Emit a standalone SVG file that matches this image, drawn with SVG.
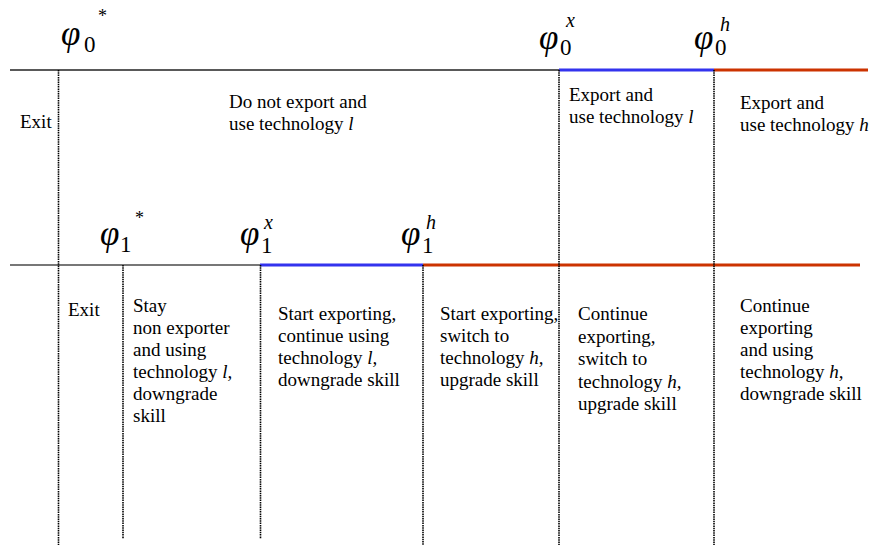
<svg xmlns="http://www.w3.org/2000/svg" width="869" height="545" viewBox="0 0 869 545">
<style>
text{font-family:'Liberation Serif','Times New Roman',Tinos,'DejaVu Serif',serif;fill:#000}
.t{font-size:19px}
.i{font-style:italic}
.phi{font-style:italic;font-size:35px}
.sub{font-style:normal;font-size:23px}
.sup{font-style:italic;font-size:20px}
.star{font-style:normal;font-size:18px}
.v{stroke:#000;stroke-width:1.6;stroke-dasharray:1.5 0.8;fill:none}
.blk{stroke:#222;stroke-width:1.3}
.gry{stroke:#777;stroke-width:2}
.blu{stroke:#3333ee;stroke-width:3}
.red{stroke:#cc3300;stroke-width:3}
</style>
<rect width="869" height="545" fill="#fff"/>
<g id="connectors">
<line class="blk" x1="10" y1="70" x2="559" y2="70"/>
<line class="blu" x1="559" y1="70" x2="714" y2="70"/>
<line class="red" x1="714" y1="70" x2="868" y2="70"/>
<line class="gry" x1="10" y1="265" x2="260" y2="265"/>
<line class="blu" x1="260" y1="265" x2="423" y2="265"/>
<line class="red" x1="423" y1="265" x2="860" y2="265"/>
<line class="v" x1="58.5" y1="70" x2="58.5" y2="545"/>
<line class="v" x1="123" y1="265" x2="123" y2="539"/>
<line class="v" x1="260.5" y1="265" x2="260.5" y2="539"/>
<line class="v" x1="423" y1="265" x2="423" y2="545"/>
<line class="v" x1="559" y1="70" x2="559" y2="545"/>
<line class="v" x1="714" y1="70" x2="714" y2="545"/>
</g>
<g id="phi0star"><text class="phi" x="61" y="45">φ<tspan class="sub" x="84" y="52">0</tspan><tspan class="star" x="98" y="22">*</tspan></text></g>
<g id="phi0x"><text class="phi" x="539" y="49">φ<tspan class="sub" x="560" y="55">0</tspan><tspan class="sup" x="566" y="27">x</tspan></text></g>
<g id="phi0h"><text class="phi" x="694" y="49">φ<tspan class="sub" x="715" y="55">0</tspan><tspan class="sup" x="720" y="31">h</tspan></text></g>
<g id="phi1star"><text class="phi" x="100" y="245">φ<tspan class="sub" x="120" y="252">1</tspan><tspan class="star" x="135" y="224">*</tspan></text></g>
<g id="phi1x"><text class="phi" x="240" y="245">φ<tspan class="sub" x="261" y="253">1</tspan><tspan class="sup" x="264" y="229">x</tspan></text></g>
<g id="phi1h"><text class="phi" x="401" y="245">φ<tspan class="sub" x="422" y="253">1</tspan><tspan class="sup" x="426" y="229">h</tspan></text></g>
<g id="exit0"><text class="t" x="20" y="128">Exit</text></g>
<g id="noexport"><text class="t" x="229" y="108">Do not export and</text><text class="t" x="229" y="130">use technology <tspan class="i">l</tspan></text></g>
<g id="exportl"><text class="t" x="569" y="101">Export and</text><text class="t" x="569" y="123">use technology <tspan class="i">l</tspan></text></g>
<g id="exporth"><text class="t" x="740" y="109">Export and</text><text class="t" x="740" y="131">use technology <tspan class="i">h</tspan></text></g>
<g id="exit1"><text class="t" x="68" y="316">Exit</text></g>
<g id="stay"><text class="t" x="133" y="312">Stay</text><text class="t" x="133" y="334">non exporter</text><text class="t" x="133" y="356">and using</text><text class="t" x="133" y="378">technology <tspan class="i">l,</tspan></text><text class="t" x="133" y="400">downgrade</text><text class="t" x="133" y="422">skill</text></g>
<g id="startl"><text class="t" x="278" y="320">Start exporting,</text><text class="t" x="278" y="342">continue using</text><text class="t" x="278" y="364">technology <tspan class="i">l,</tspan></text><text class="t" x="278" y="386">downgrade skill</text></g>
<g id="starth"><text class="t" x="440" y="320">Start exporting,</text><text class="t" x="440" y="342">switch to</text><text class="t" x="440" y="364">technology <tspan class="i">h,</tspan></text><text class="t" x="440" y="386">upgrade skill</text></g>
<g id="contswitch"><text class="t" x="578" y="320">Continue</text><text class="t" x="578" y="343">exporting,</text><text class="t" x="578" y="365">switch to</text><text class="t" x="578" y="388">technology <tspan class="i">h,</tspan></text><text class="t" x="578" y="410">upgrade skill</text></g>
<g id="conth"><text class="t" x="740" y="312">Continue</text><text class="t" x="740" y="334">exporting</text><text class="t" x="740" y="356">and using</text><text class="t" x="740" y="378">technology <tspan class="i">h,</tspan></text><text class="t" x="740" y="400">downgrade skill</text></g>
</svg>
